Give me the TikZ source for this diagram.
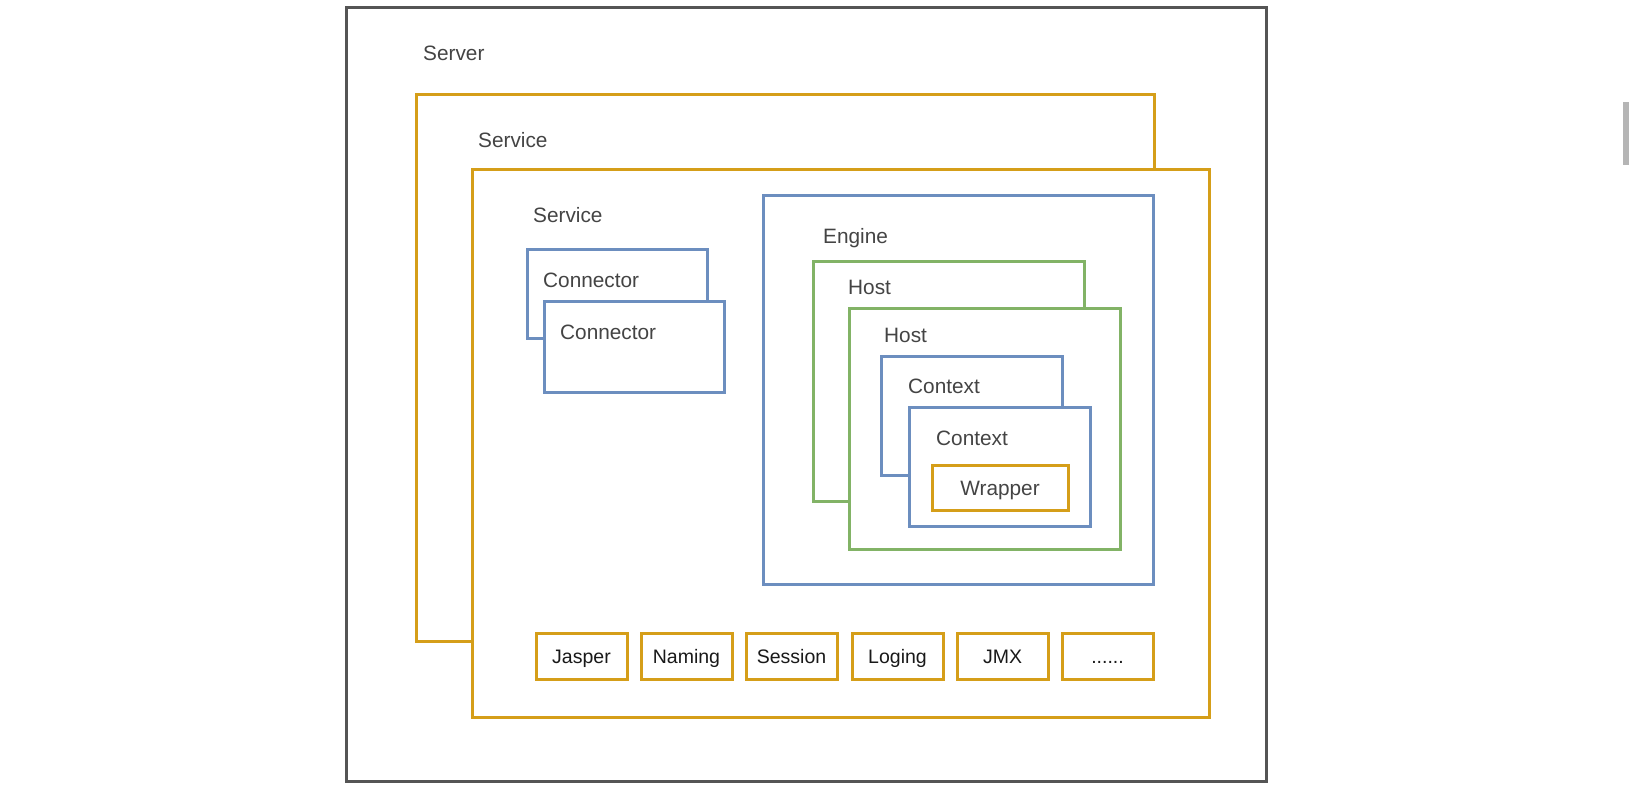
\documentclass[tikz,border=0pt]{standalone}
\usepackage{fontspec}
\setmainfont{Liberation Sans}
\definecolor{srvgray}{RGB}{85,85,85}
\definecolor{orng}{RGB}{213,158,25}
\definecolor{blu}{RGB}{108,142,191}
\definecolor{grn}{RGB}{130,179,102}
\definecolor{lbl}{RGB}{68,68,68}
\definecolor{barg}{RGB}{181,181,181}
\tikzset{
  box/.style={rectangle, inner sep=0pt, outer sep=0pt, anchor=north west, fill=white, line width=3pt},
  srvbox/.style={box, draw=srvgray, line width=3pt},
  obox/.style={box, draw=orng},
  bbox/.style={box, draw=blu},
  gbox/.style={box, draw=grn},
  tag/.style={anchor=base west, inner sep=0pt, text=lbl, font=\fontsize{20.8}{24}\selectfont},
  mod/.style={obox, minimum width=91pt, minimum height=46pt, text=black!90,
              text height=14pt, text depth=0pt,
              font=\fontsize{19.5}{22}\selectfont},
}
\begin{document}
\begin{tikzpicture}[x=1pt, y=-1pt]
\useasboundingbox (0,0) rectangle (1629,787);

% outer server frame
\node[srvbox, minimum width=920pt, minimum height=774pt] (server) at (346,7) {};
\node[tag] (serverlbl) at (423,60) {Server};

% two stacked services
\node[obox, minimum width=738pt, minimum height=547pt] (svcA) at (416,94.5) {};
\node[tag] (svcAlbl) at (478,147) {Service};
\node[obox, minimum width=737pt, minimum height=548pt] (svcB) at (472,169) {};
\node[tag] (svcBlbl) at (533,222) {Service};

% connectors
\node[bbox, minimum width=180pt, minimum height=89pt] (connA) at (527,249) {};
\node[tag] (connAlbl) at (543,287) {Connector};
\node[bbox, minimum width=180pt, minimum height=91pt] (connB) at (544,301) {};
\node[tag] (connBlbl) at (560,339) {Connector};

% engine with hosts and contexts
\node[bbox, minimum width=390pt, minimum height=389pt] (engine) at (763,195) {};
\node[tag] (enginelbl) at (823,243) {Engine};
\node[gbox, minimum width=271pt, minimum height=240pt] (hostA) at (813,261) {};
\node[tag] (hostAlbl) at (848,294) {Host};
\node[gbox, minimum width=271pt, minimum height=241pt] (hostB) at (849,308) {};
\node[tag] (hostBlbl) at (884,342) {Host};
\node[bbox, minimum width=181pt, minimum height=119pt] (ctxA) at (881,356) {};
\node[tag] (ctxAlbl) at (908,393) {Context};
\node[bbox, minimum width=181pt, minimum height=119pt] (ctxB) at (909,407) {};
\node[tag] (ctxBlbl) at (936,445) {Context};
\node[obox, minimum width=136pt, minimum height=45pt] (wrap) at (932,465) {};
\node[tag, anchor=base] (wraplbl) at (1000,495) {Wrapper};

% components row
\node[mod] (jasper)  at (536,633)  {Jasper};
\node[mod] (naming)  at (641,633)  {Naming};
\node[mod] (session) at (746,633)  {Session};
\node[mod] (loging)  at (852,633)  {Loging};
\node[mod] (jmx)     at (957,633)  {JMX};
\node[mod] (more)    at (1062,633) {......};

% scrollbar stub at the right edge
\fill[barg] (1623,102) rectangle (1629,165);
\end{tikzpicture}
\end{document}
